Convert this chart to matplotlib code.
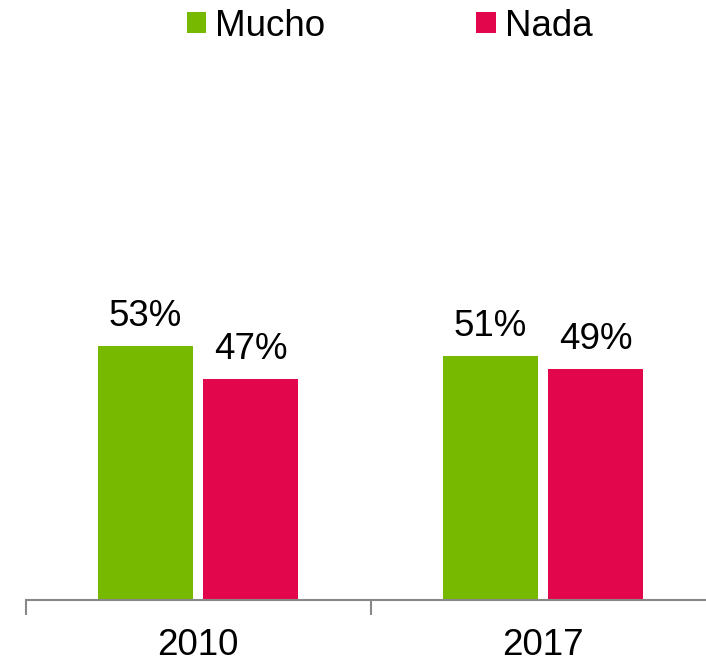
import numpy as np
from matplotlib import pyplot as plt

plt.rcParams['font.family'] = ['Liberation Sans', 'DejaVu Sans']

years = ['2010', '2017']
mucho = [53.4, 51.4]
nada = [46.6, 48.6]
series = [('Mucho', mucho, '#76B900'), ('Nada', nada, '#E2074C')]

fig = plt.figure(figsize=(7.06, 6.64), dpi=100)
# axes runs a little past the right edge, like the original
ax = fig.add_axes([25.5 / 706, 64 / 664, 690 / 706, 475 / 664])

centers = np.arange(len(years)) + 0.5
width = 0.275
offset = 0.152

for i, (name, vals, color) in enumerate(series):
    xs = centers + (offset if i else -offset)
    bars = ax.bar(xs, vals, width=width, color=color, label=name)
    for b, v in zip(bars, vals):
        ax.annotate(f'{v:.0f}%', (b.get_x() + b.get_width() / 2, b.get_height()),
                    xytext=(0, 14.4), textcoords='offset points',
                    ha='center', va='baseline', fontsize=26.5)

ax.set_xlim(0, len(years))
ax.set_ylim(0, 100)

for side in ['left', 'right', 'top']:
    ax.spines[side].set_visible(False)
ax.spines['bottom'].set_color('#888888')
ax.spines['bottom'].set_linewidth(1.5)

ax.set_yticks([])
ax.set_xticks(np.arange(len(years) + 1))
ax.set_xticklabels([])
ax.tick_params(axis='x', which='major', length=11, width=1.5, color='#888888', direction='out')
ax.set_xticks(centers, minor=True)
ax.set_xticklabels(years, minor=True, fontsize=26.5)
ax.tick_params(axis='x', which='minor', length=0, pad=20)

fig.legend(loc='center', bbox_to_anchor=(0.552, 1 - 26 / 664), ncol=2, frameon=False,
           fontsize=26.5, handlelength=0.53, handleheight=0.53, handletextpad=0.25,
           columnspacing=4.1, borderpad=0, borderaxespad=0)

fig.savefig('out.png', dpi=100)
